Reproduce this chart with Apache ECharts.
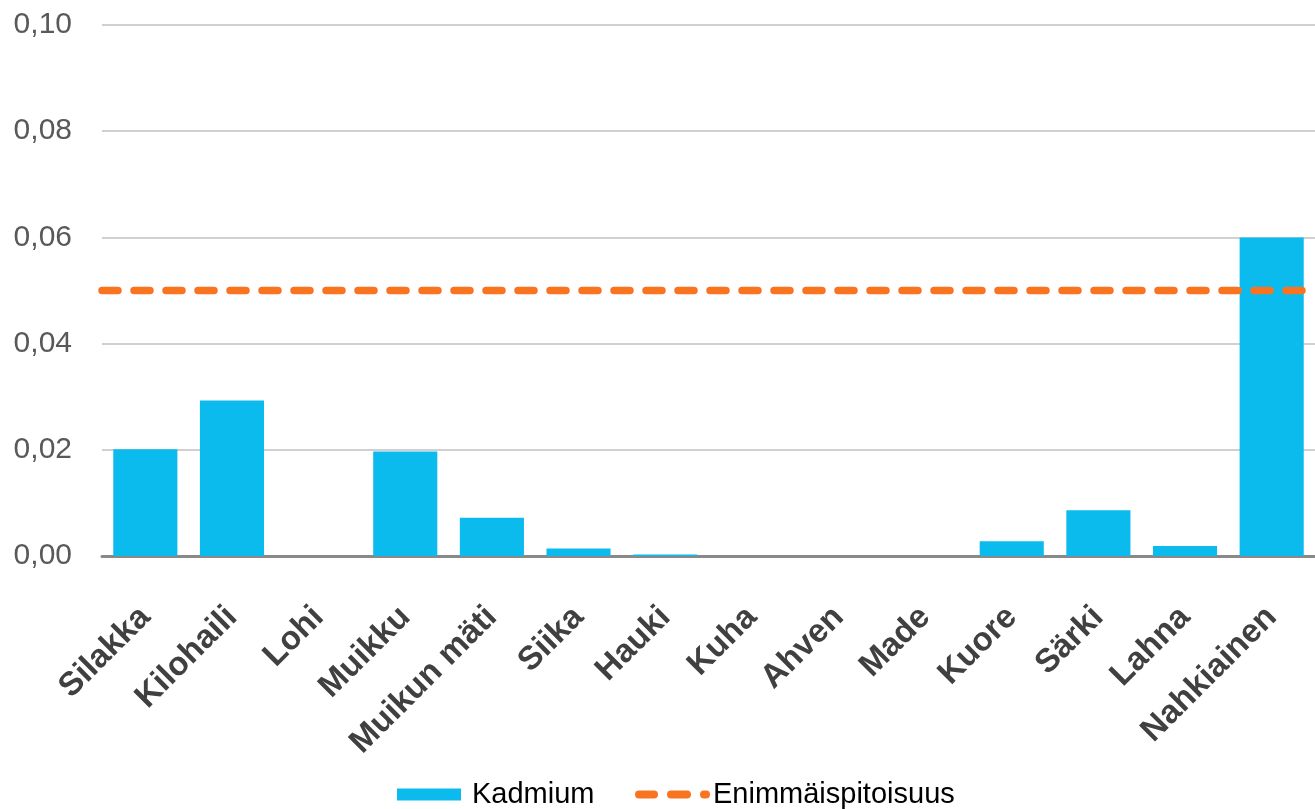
<!DOCTYPE html>
<html>
<head>
<meta charset="utf-8">
<script src="https://cdn.jsdelivr.net/npm/echarts@6/dist/echarts.min.js"></script>
<style>html,body{margin:0;padding:0;background:#fff;}#c{width:1315px;height:809px;}</style>
</head>
<body>
<div id="c"></div>
<script>
const categories = ['Silakka','Kilohaili','Lohi','Muikku','Muikun mäti','Siika','Hauki','Kuha','Ahven','Made','Kuore','Särki','Lahna','Nahkiainen'];
const kadmium = [0.0201,0.0293,0,0.0197,0.0072,0.0014,0.0003,0,0,0,0.0028,0.0086,0.0019,0.060];
const limitValues = [0.05,0.05,0.05,0.05,0.05,0.05,0.05,0.05,0.05,0.05,0.05,0.05,0.05,0.05];
const yTicks = [0,0.02,0.04,0.06,0.08,0.10];

const chart = echarts.init(document.getElementById('c'));
const font = '"Liberation Sans", Arial, sans-serif';
const dashIcon = 'path://M4,0 H19 A4,4 0 0 1 19,8 H4 A4,4 0 0 1 4,0 Z M36,0 H52 A4,4 0 0 1 52,8 H36 A4,4 0 0 1 36,0 Z M69,0 H71 A4,4 0 0 1 71,8 H69 A4,4 0 0 1 69,0 Z';
chart.setOption({
  animation: false,
  textStyle: {fontFamily: font},
  grid: {left: 102, right: 0, top: 25, bottom: 253, containLabel: false},
  legend: [{
    top: 775, left: 392,
    itemWidth: 64, itemHeight: 12,
    textStyle: {fontSize: 29, color: '#000', fontFamily: font, padding: [0, 0, 0, 6]},
    data: [{name: 'Kadmium', icon: 'rect'}]
  }, {
    top: 775, left: 630,
    itemWidth: 75, itemHeight: 8,
    textStyle: {fontSize: 29, color: '#000', fontFamily: font, padding: [0, 0, 0, -2]},
    data: [{name: 'Enimmäispitoisuus', icon: dashIcon, itemStyle: {color: '#F97420'}}]
  }],
  xAxis: [{
    type: 'category', data: categories,
    axisLine: {lineStyle: {color: '#898989', width: 3}},
    axisTick: {show: false},
    axisLabel: {rotate: 45, fontSize: 33, fontWeight: 'bold', color: '#404040', margin: 56, interval: 0, fontFamily: font}
  }, {
    type: 'category', data: categories, boundaryGap: false, show: false
  }],
  yAxis: {
    type: 'value', min: 0, max: 0.10, interval: 0.02,
    axisLine: {show: false}, axisTick: {show: false},
    axisLabel: {fontSize: 30, color: '#595959', margin: 30, fontFamily: font,
      formatter: v => v.toFixed(2).replace('.', ',')},
    splitLine: {lineStyle: {color: '#d0d0d0', width: 2}}
  },
  series: [{
    name: 'Kadmium', type: 'bar', data: kadmium,
    barCategoryGap: '26%',
    itemStyle: {color: '#0CBBEE'}
  }, {
    name: 'Enimmäispitoisuus', type: 'line', xAxisIndex: 1, data: limitValues,
    symbol: 'none', z: 5,
    lineStyle: {color: '#F97420', width: 7.5, type: [16, 16], cap: 'round'},
    itemStyle: {color: '#F97420'}
  }]
});
</script>
</body>
</html>
